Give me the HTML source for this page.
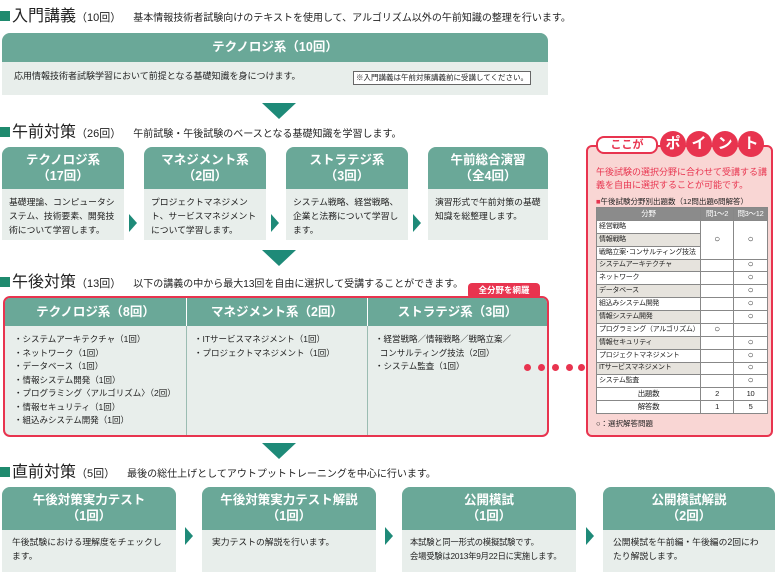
<!DOCTYPE html>
<html><head><meta charset="utf-8"><style>
*{margin:0;padding:0;box-sizing:border-box}
body{width:775px;height:583px;position:relative;background:#fff;font-family:"Liberation Sans","Noto Sans CJK JP",sans-serif;color:#222;overflow:hidden}
.a{position:absolute}
.h{font-size:16px;line-height:18px;white-space:nowrap}
.h:before{content:"";display:inline-block;width:10px;height:10px;background:#1f8a6e;margin-right:2px;vertical-align:0}
.h small{font-size:11px}
.h span{font-size:10px;margin-left:12px}
.box{position:absolute;border-radius:8px 8px 0 0;overflow:hidden;background:#e8eeeb}
.hd{background:#6aa898;color:#fff;font-weight:bold;text-align:center;font-size:12.5px;line-height:16px}
.bd{font-size:8.8px;line-height:14px;padding:6px 7px}
.chev{position:absolute;width:0;height:0;border-left:8px solid #1e8a78;border-top:9px solid transparent;border-bottom:9px solid transparent}
.down{position:absolute;width:0;height:0;border-top:16px solid #1e8a78;border-left:17px solid transparent;border-right:17px solid transparent}
table{border-collapse:collapse;font-size:7px;table-layout:fixed}
td{border:1px solid #888;height:12.2px;padding:0 2px;line-height:10px;white-space:nowrap;overflow:hidden;letter-spacing:-0.3px}
tr{height:12.2px}
.g td:first-child{background:#e6e3dd}
.c{text-align:center;font-size:10px}
.n{text-align:center;font-size:7.5px}
.dot{position:absolute;width:7px;height:7px;border-radius:50%;background:#e8344f}
</style></head><body>

<div class="a h" style="left:0;top:8px">入門講義<small>（10回）</small><span>基本情報技術者試験向けのテキストを使用して、アルゴリズム以外の午前知識の整理を行います。</span></div>
<div class="box" style="left:2px;top:33px;width:546px;height:62px">
<div class="hd" style="height:29px;line-height:29px">テクノロジ系（10回）</div>
<div class="bd" style="font-size:9px;padding:7px 12px">応用情報技術者試験学習において前提となる基礎知識を身につけます。</div>
<div class="a" style="left:351px;top:38px;width:178px;height:14px;border:1px solid #666;background:#fff;font-size:7.5px;line-height:12px;text-align:center">※入門講義は午前対策講義前に受講してください。</div>
</div>
<div class="down" style="left:262px;top:103px"></div>

<div class="a h" style="left:0;top:124px">午前対策<small>（26回）</small><span>午前試験・午後試験のベースとなる基礎知識を学習します。</span></div>
<div class="box" style="left:2px;top:147px;width:122px;height:93px"><div class="hd" style="height:42px;padding-top:5px">テクノロジ系<br>（17回）</div><div class="bd">基礎理論、コンピュータシステム、技術要素、開発技術について学習します。</div></div>
<div class="box" style="left:144px;top:147px;width:122px;height:93px"><div class="hd" style="height:42px;padding-top:5px">マネジメント系<br>（2回）</div><div class="bd">プロジェクトマネジメント、サービスマネジメントについて学習します。</div></div>
<div class="box" style="left:286px;top:147px;width:122px;height:93px"><div class="hd" style="height:42px;padding-top:5px">ストラテジ系<br>（3回）</div><div class="bd">システム戦略、経営戦略、企業と法務について学習します。</div></div>
<div class="box" style="left:428px;top:147px;width:120px;height:93px"><div class="hd" style="height:42px;padding-top:5px">午前総合演習<br>（全4回）</div><div class="bd">演習形式で午前対策の基礎知識を総整理します。</div></div>
<div class="chev" style="left:129px;top:214px"></div>
<div class="chev" style="left:271px;top:214px"></div>
<div class="chev" style="left:413px;top:214px"></div>
<div class="down" style="left:262px;top:250px"></div>

<div class="a h" style="left:0;top:274px">午後対策<small>（13回）</small><span>以下の講義の中から最大13回を自由に選択して受講することができます。</span></div>
<div class="a" style="left:468px;top:283px;width:72px;height:16px;background:#e8344f;border-radius:4px;color:#fff;font-size:8.5px;font-weight:bold;text-align:center;line-height:15px">全分野を網羅</div>
<div class="a" style="left:3px;top:296px;width:546px;height:141px;border:2.5px solid #e8344f;border-radius:7px;background:#e8eeeb;overflow:hidden">
<div class="a hd" style="left:0;top:0;width:541px;height:28px"></div>
<div class="a hd" style="left:0;top:0;width:181px;height:28px;line-height:28px">テクノロジ系（8回）</div>
<div class="a hd" style="left:181px;top:0;width:181px;height:28px;line-height:28px;border-left:1px solid #fff">マネジメント系（2回）</div>
<div class="a hd" style="left:362px;top:0;width:180px;height:28px;line-height:28px;border-left:1px solid #fff">ストラテジ系（3回）</div>
<div class="a" style="left:181px;top:28px;width:1px;height:112px;background:#9bbcb2"></div>
<div class="a" style="left:362px;top:28px;width:1px;height:112px;background:#9bbcb2"></div>
<div class="a" style="left:9px;top:35px;font-size:8.5px;line-height:13.5px">・システムアーキテクチャ（1回）<br>・ネットワーク（1回）<br>・データベース（1回）<br>・情報システム開発（1回）<br>・プログラミング〈アルゴリズム〉（2回）<br>・情報セキュリティ（1回）<br>・組込みシステム開発（1回）</div>
<div class="a" style="left:189px;top:35px;font-size:8.5px;line-height:13.5px">・ITサービスマネジメント（1回）<br>・プロジェクトマネジメント（1回）</div>
<div class="a" style="left:370px;top:35px;font-size:8.5px;line-height:13.5px">・経営戦略／情報戦略／戦略立案／<br>&nbsp;&nbsp;コンサルティング技法（2回）<br>・システム監査（1回）</div>
</div>
<div class="dot" style="left:524px;top:364px"></div><div class="dot" style="left:538px;top:364px"></div><div class="dot" style="left:552px;top:364px"></div><div class="dot" style="left:566px;top:364px"></div><div class="dot" style="left:578px;top:364px"></div>

<div class="a" style="left:586px;top:145px;width:187px;height:292px;background:#f9d6d4;border:2px solid #e8344f;border-radius:6px"></div>
<div class="a" style="left:596px;top:136px;width:62px;height:18px;background:#fff;border:2px solid #e8344f;border-radius:8px;color:#e8344f;font-weight:bold;font-size:11px;text-align:center;line-height:14px">ここが</div>
<div class="a" style="left:660px;top:131px;font-size:15px;font-weight:bold;color:#fff;white-space:nowrap">
<span style="display:inline-block;width:26px;height:26px;border-radius:50%;background:#e8344f;text-align:center;line-height:26px">ポ</span><span style="display:inline-block;width:26px;height:26px;border-radius:50%;background:#e8344f;text-align:center;line-height:26px">イ</span><span style="display:inline-block;width:26px;height:26px;border-radius:50%;background:#e8344f;text-align:center;line-height:26px">ン</span><span style="display:inline-block;width:26px;height:26px;border-radius:50%;background:#e8344f;text-align:center;line-height:26px">ト</span></div>
<div class="a" style="left:596px;top:166px;width:172px;font-size:9px;line-height:13px;color:#e8344f">午後試験の選択分野に合わせて受講する講義を自由に選択することが可能です。</div>
<div class="a" style="left:596px;top:196px;font-size:7.5px;white-space:nowrap"><span style="color:#e8344f">■</span>午後試験分野別出題数（12問出題6問解答）</div>
<table class="a" style="left:596px;top:207px;width:171px;height:207px;background:#fff">
<colgroup><col style="width:104px"><col style="width:33px"><col style="width:34px"></colgroup>
<tr style="background:#8b8b8b;color:#fff"><td class="n">分野</td><td class="n">問1～2</td><td class="n">問3～12</td></tr>
<tr><td>経営戦略</td><td class="c" rowspan="3">○</td><td class="c" rowspan="3">○</td></tr>
<tr class="g"><td>情報戦略</td></tr>
<tr><td>戦略立案･コンサルティング技法</td></tr>
<tr class="g"><td>システムアーキテクチャ</td><td></td><td class="c">○</td></tr>
<tr><td>ネットワーク</td><td></td><td class="c">○</td></tr>
<tr class="g"><td>データベース</td><td></td><td class="c">○</td></tr>
<tr><td>組込みシステム開発</td><td></td><td class="c">○</td></tr>
<tr class="g"><td>情報システム開発</td><td></td><td class="c">○</td></tr>
<tr><td>プログラミング（アルゴリズム）</td><td class="c">○</td><td></td></tr>
<tr class="g"><td>情報セキュリティ</td><td></td><td class="c">○</td></tr>
<tr><td>プロジェクトマネジメント</td><td></td><td class="c">○</td></tr>
<tr class="g"><td>ITサービスマネジメント</td><td></td><td class="c">○</td></tr>
<tr><td>システム監査</td><td></td><td class="c">○</td></tr>
<tr><td class="n">出題数</td><td class="n">2</td><td class="n">10</td></tr>
<tr><td class="n">解答数</td><td class="n">1</td><td class="n">5</td></tr>
</table>
<div class="a" style="left:596px;top:418px;font-size:7.5px">○：選択解答問題</div>

<div class="down" style="left:262px;top:443px"></div>
<div class="a h" style="left:0;top:464px">直前対策<small>（5回）</small><span>最後の総仕上げとしてアウトプットトレーニングを中心に行います。</span></div>
<div class="box" style="left:2px;top:487px;width:174px;height:85px"><div class="hd" style="height:43px;padding-top:5px">午後対策実力テスト<br>（1回）</div><div class="bd" style="padding:5px 10px">午後試験における理解度をチェックします。</div></div>
<div class="box" style="left:202px;top:487px;width:174px;height:85px"><div class="hd" style="height:43px;padding-top:5px">午後対策実力テスト解説<br>（1回）</div><div class="bd" style="padding:5px 10px">実力テストの解説を行います。</div></div>
<div class="box" style="left:402px;top:487px;width:174px;height:85px"><div class="hd" style="height:43px;padding-top:5px">公開模試<br>（1回）</div><div class="bd" style="padding:5px 8px;font-size:8.3px;white-space:nowrap;letter-spacing:-0.2px">本試験と同一形式の模擬試験です。<br>会場受験は2013年9月22日に実施します。</div></div>
<div class="box" style="left:603px;top:487px;width:172px;height:85px"><div class="hd" style="height:43px;padding-top:5px">公開模試解説<br>（2回）</div><div class="bd" style="padding:5px 10px">公開模試を午前編・午後編の2回にわたり解説します。</div></div>
<div class="chev" style="left:185px;top:527px"></div>
<div class="chev" style="left:385px;top:527px"></div>
<div class="chev" style="left:586px;top:527px"></div>
</body></html>
